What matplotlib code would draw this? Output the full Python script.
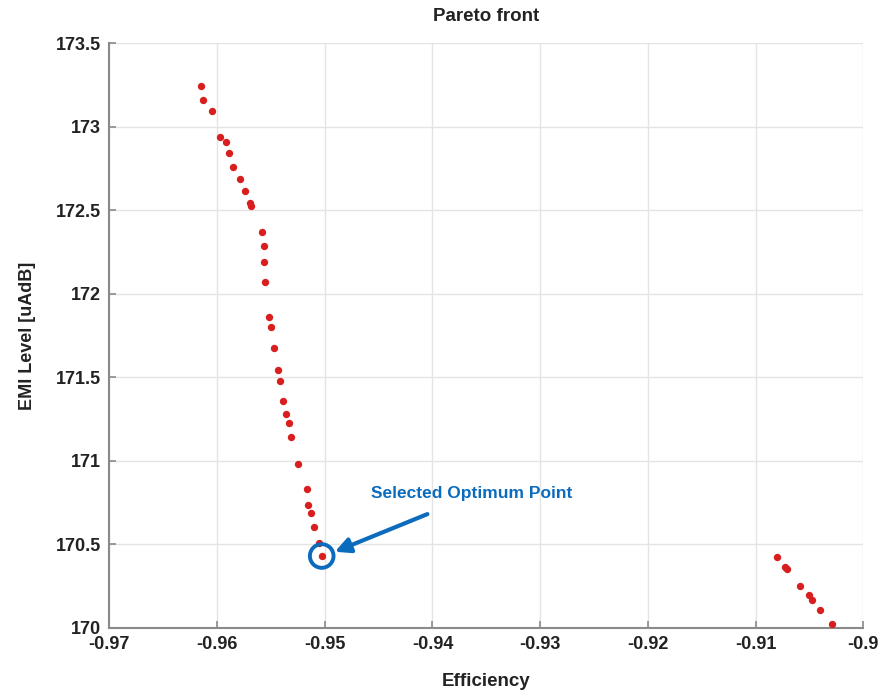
import matplotlib
matplotlib.use("Agg")
import matplotlib.pyplot as plt

plt.rcParams['font.family'] = ['Liberation Sans', 'DejaVu Sans']

efficiency = [-0.96151, -0.96130, -0.96044, -0.95969, -0.95914, -0.95889, -0.95849,
              -0.95784, -0.95740, -0.95697, -0.95684, -0.95578, -0.95564, -0.95561,
              -0.95552, -0.95517, -0.95502, -0.95474, -0.95437, -0.95418, -0.95385,
              -0.95357, -0.95334, -0.95310, -0.95245, -0.95165, -0.95152, -0.95130,
              -0.95102, -0.95056, -0.95028,
              -0.90798, -0.90727, -0.90705, -0.90585, -0.90507, -0.90473, -0.90399,
              -0.90293]
emi_level = [173.244, 173.162, 173.093, 172.939, 172.911, 172.841, 172.759,
             172.689, 172.618, 172.542, 172.526, 172.369, 172.284, 172.191,
             172.069, 171.863, 171.800, 171.674, 171.546, 171.479, 171.357,
             171.281, 171.229, 171.146, 170.982, 170.830, 170.736, 170.687,
             170.605, 170.507, 170.431,
             170.427, 170.367, 170.351, 170.253, 170.199, 170.168, 170.108,
             170.022]
selected = (-0.95028, 170.431)
x_ticks = [-0.97, -0.96, -0.95, -0.94, -0.93, -0.92, -0.91, -0.90]
x_tick_labels = ['-0.97', '-0.96', '-0.95', '-0.94', '-0.93', '-0.92', '-0.91', '-0.9']
y_ticks = [170, 170.5, 171, 171.5, 172, 172.5, 173, 173.5]
y_tick_labels = ['170', '170.5', '171', '171.5', '172', '172.5', '173', '173.5']

fig = plt.figure(figsize=(8.83, 6.9), dpi=100)
ax = fig.add_axes([109.3/883, 1 - 628/690, (863.3-109.3)/883, (628-43.3)/690])

ax.scatter(efficiency, emi_level, s=28, color='#d81e1e', zorder=3, linewidths=0)

ax.set_xlim(-0.97, -0.90)
ax.set_ylim(170, 173.5)
ax.set_xticks(x_ticks)
ax.set_xticklabels(x_tick_labels)
ax.set_yticks(y_ticks)
ax.set_yticklabels(y_tick_labels)
ax.grid(True, color='#e4e4e4', linewidth=1.0)
ax.set_axisbelow(True)
for s in ['top', 'right']:
    ax.spines[s].set_visible(False)
for s in ['left', 'bottom']:
    ax.spines[s].set_color('#8a8a8a')
    ax.spines[s].set_linewidth(1.5)
ax.tick_params(direction='in', length=5, width=1.2, color='#8a8a8a',
               labelsize=13, labelcolor='#222222')
ax.tick_params(axis='x', pad=6)
ax.tick_params(axis='y', pad=6)
for lab in ax.get_xticklabels() + ax.get_yticklabels():
    lab.set_fontweight('bold')

ax.set_title('Pareto front', fontsize=13.5, fontweight='bold', color='#222222', pad=16)
ax.set_xlabel('Efficiency', fontsize=13.5, fontweight='bold', color='#222222', labelpad=14)
ax.set_ylabel('EMI Level [uAdB]', fontsize=13, fontweight='bold', color='#222222', labelpad=14)

blue = '#0b6bbd'
ax.scatter([selected[0]], [selected[1]], s=290, facecolors='none', edgecolors=blue,
           linewidths=2.8, zorder=4)
ax.annotate('', xy=(-0.94930, 170.45), xytext=(-0.94023, 170.688),
            arrowprops=dict(arrowstyle='-|>,head_length=0.9,head_width=0.45',
                            color=blue, lw=3), zorder=5)
ax.text(-0.93633, 170.808, 'Selected Optimum Point', color=blue, fontsize=12.5,
        fontweight='bold', ha='center', va='center')

fig.savefig('out.png', dpi=100)
